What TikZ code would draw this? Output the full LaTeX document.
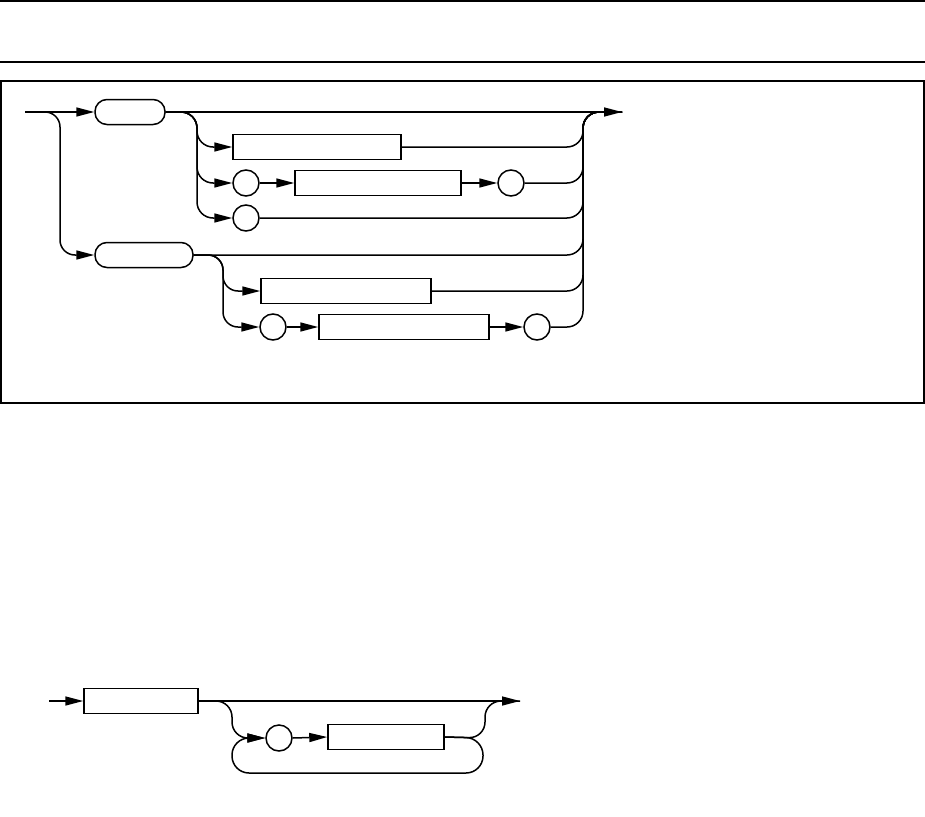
\documentclass[tikz,border=0pt]{standalone}
\usetikzlibrary{arrows.meta}
\begin{document}
\begin{tikzpicture}[x=1pt,y=-1pt,
  line width=1.5pt,
  kwbox/.style={draw, rectangle, rounded corners=12pt, minimum height=25pt, inner sep=0pt},
  idbox/.style={draw, rectangle, minimum height=25pt, inner sep=0pt},
  sym/.style={draw, circle, minimum size=26pt, inner sep=0pt},
  arr/.style={-{Triangle[length=18pt,width=9pt]}},
  rc/.style={rounded corners=16pt}]
\useasboundingbox (0,0) rectangle (925,816);
% header rules
\draw[line width=1.4pt] (0,1) -- (925,1);
\draw[line width=1.2pt] (0,62) -- (925,62);
% frame
\draw[line width=1.3pt] (1,81) rectangle (924,403);

% ---------- upper diagram ----------
\coordinate (in) at (25,112);
\coordinate (out) at (622,112);
\node[kwbox, minimum width=70pt] (kw1) at (130,112) {};
\node[kwbox, minimum width=98pt] (kw2) at (144,255) {};
\node[idbox, minimum width=168pt] (r1) at (317,147) {};
\node[sym] (c1) at (246,183) {};
\node[idbox, minimum width=166pt] (r2) at (378,183) {};
\node[sym] (c2) at (511,183) {};
\node[sym] (c3) at (246,218) {};
\node[idbox, minimum width=170pt] (r3) at (346,291) {};
\node[sym] (c4) at (273,327) {};
\node[idbox, minimum width=170pt] (r4) at (404,327) {};
\node[sym] (c5) at (537,327) {};

\draw[arr] (in) -- (kw1.west);
\draw[arr, rounded corners=15pt] (in) -- (60,112) -- (60,255) -- (kw2.west);
\draw[arr] (kw1.east) -- (out);

\draw[arr, rc] (kw1.east) -- (197,112) -- (197,147) -- (r1.west);
\draw[arr, rc] (kw1.east) -- (197,112) -- (197,183) -- (c1.west);
\draw[arr, rc] (kw1.east) -- (197,112) -- (197,218) -- (c3.west);
\draw[arr] (c1.east) -- (r2.west);
\draw[arr] (r2.east) -- (c2.west);

\draw[arr, rounded corners=15pt] (kw2.east) -- (223,255) -- (223,291) -- (r3.west);
\draw[arr, rounded corners=15pt] (kw2.east) -- (223,255) -- (223,327) -- (c4.west);
\draw[arr] (c4.east) -- (r4.west);
\draw[arr] (r4.east) -- (c5.west);

\draw[rc] (r1.east) -- (583,147) -- (583,112) -- (out);
\draw[rc] (c2.east) -- (583,183) -- (583,112) -- (out);
\draw[rc] (c3.east) -- (583,218) -- (583,112) -- (out);
\draw[rc] (kw2.east) -- (583,255) -- (583,112) -- (out);
\draw[rc] (r3.east) -- (583,291) -- (583,112) -- (out);
\draw[rc] (c5.east) -- (583,327) -- (583,112) -- (out);

% ---------- lower diagram ----------
\coordinate (in2) at (49,701);
\coordinate (out2) at (520,701);
\node[idbox, minimum width=114pt] (b1) at (141,701) {};
\node[sym] (c6) at (279,738) {};
\node[idbox, minimum width=116pt] (b2) at (386,737) {};

\draw[arr] (in2) -- (b1.west);
\draw[arr] (b1.east) -- (out2);
\draw[arr, rc] (b1.east) -- (232,701) -- (232,738) -- (c6.west);
\draw[arr] (c6.east) -- (b2.west);
\draw[rc] (b2.east) -- (485,738) -- (485,701) -- (out2);
\draw[arr, rounded corners=17pt] (b2.east) -- (483,738) -- (483,773) -- (232,773) -- (232,738) -- (c6.west);
\end{tikzpicture}
\end{document}
